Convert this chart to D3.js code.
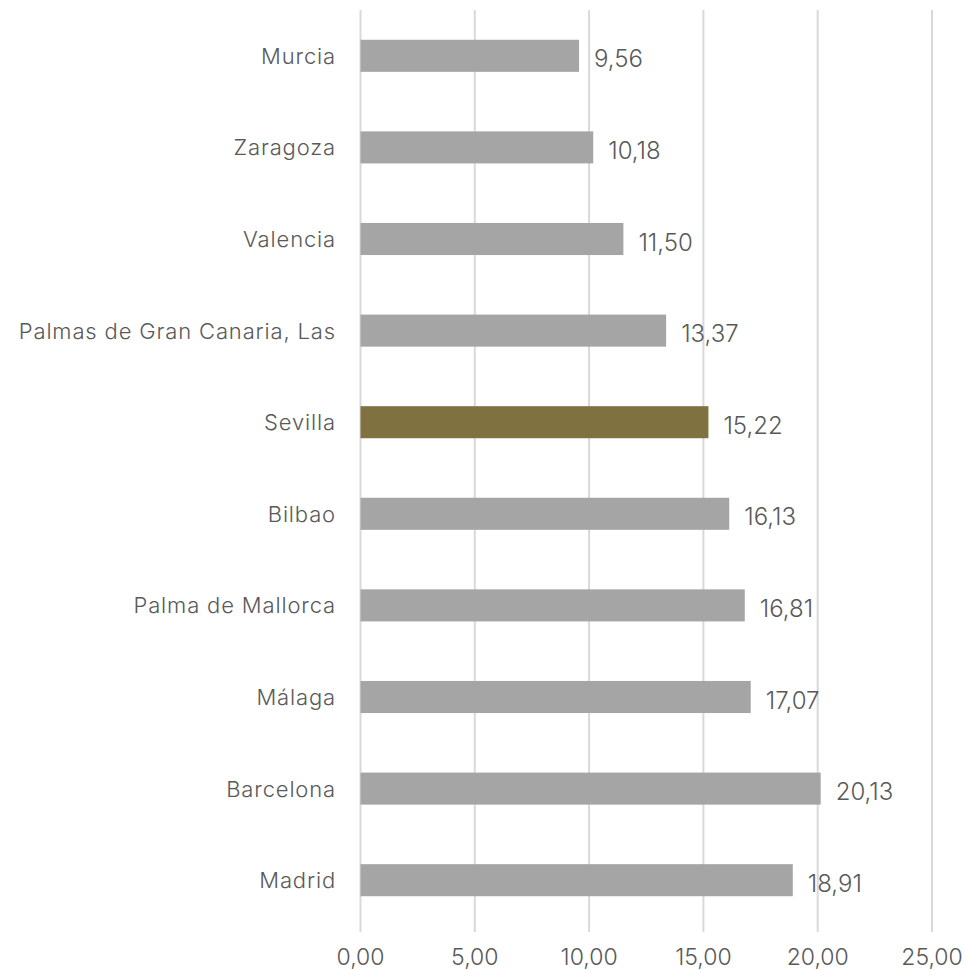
<!DOCTYPE html>
<html><head><meta charset="utf-8">
<script src="https://cdn.jsdelivr.net/npm/d3@7"></script>
<style>body{margin:0;background:#fff}svg{display:block}text{font-family:Inter,"Open Sans",sans-serif;fill:#595959;font-weight:300}</style>
</head><body>
<script>
const categories = ["Murcia","Zaragoza","Valencia","Palmas de Gran Canaria, Las","Sevilla","Bilbao","Palma de Mallorca","Málaga","Barcelona","Madrid"];
const values = [9.56,10.18,11.50,13.37,15.22,16.13,16.81,17.07,20.13,18.91];
const highlight = ["Sevilla"];
const xTicks = [0,5,10,15,20,25];

const W=966,H=970;
const svg=d3.select("body").append("svg").attr("width",W).attr("height",H);
const x=d3.scaleLinear().domain([0,25]).range([360.5,932]);
const y=d3.scaleBand().domain(categories).range([10,926]).paddingInner(0.65).paddingOuter(0.325);
const fmt=v=>d3.format(".2f")(v).replace(".",",");

svg.append("g").selectAll("line").data(xTicks).join("line")
 .attr("x1",d=>x(d)).attr("x2",d=>x(d)).attr("y1",10).attr("y2",932)
 .attr("stroke","#D9D9D9").attr("stroke-width",2);

svg.append("g").selectAll("rect").data(categories).join("rect")
 .attr("x",x(0)).attr("y",d=>y(d)).attr("height",y.bandwidth())
 .attr("width",(d,i)=>x(values[i])-x(0))
 .attr("fill",d=>highlight.includes(d)?"#7F7240":"#A5A5A5");

svg.append("g").selectAll("text").data(categories).join("text")
 .attr("x",336).attr("y",d=>y(d)+y.bandwidth()/2).attr("dy","0.36em")
 .attr("text-anchor","end").attr("font-size",22).attr("letter-spacing","0.85px").text(d=>d);

svg.append("g").selectAll("text").data(categories).join("text")
 .attr("x",(d,i)=>x(values[i])+15).attr("y",d=>y(d)+y.bandwidth()/2+3).attr("dy","0.36em")
 .attr("font-size",24).text((d,i)=>fmt(values[i]));

svg.append("g").selectAll("text").data(xTicks).join("text")
 .attr("x",d=>x(d)).attr("y",957).attr("dy","0.36em").attr("text-anchor","middle")
 .attr("font-size",23).text(d=>fmt(d));
</script>
</body></html>
